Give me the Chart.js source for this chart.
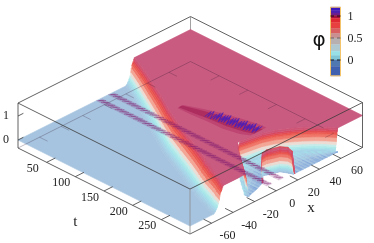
<!DOCTYPE html>
<html>
<head>
<meta charset="utf-8">
<title>phi surface</title>
<script src="https://cdn.jsdelivr.net/npm/chart.js@4/dist/chart.umd.js"></script>
<style>
  html, body { margin: 0; padding: 0; background: #fff; }
  canvas { display: block; filter: blur(0.35px); }
</style>
</head>
<body>
<canvas id="surface-chart" width="374" height="243"></canvas>
<script>
// ===== TICKS =====
const tTicks = [50, 100, 150, 200, 250];
const xTicks = [-60, -40, -20, 0, 20, 40, 60];
const phiTicks = [0, 1];
const barTicks = [0, 0.5, 1];

// ===== SURFACE VALUES =====
// left sheet: one row per t, front edges and the end of the plateau
const tRows     = [0, 30, 60, 90, 120, 150, 180, 210, 238, 244, 250, 260, 270, 280, 290, 300];
const frontLow  = [20, 11, 2, -7, -16, -25, -32, -39, -46, -47, -49, -51, -53, -55, -57, -58];
const frontHigh = [28, 21, 13, 5, -4, -12, -19, -26, -33, -35, -36, -39, -41, -43, -46, -49];

// the hole that opens at late t
const holeT     = [238, 244, 250, 260, 270, 280, 290, 300];
const holeLeft  = [-3, -6, -9, -13, -17, -21, -25, -29];
const holeRight = [-1, 18, 26, 35, 42, 48, 53, 57];

// floor of the hole, per x station
const floorX     = [-26, -15, -6, 0, 6, 12, 16, 24, 40, 57];
const floorRear  = [294, 266, 245, 238, 240, 242, 243, 248, 267, 300];
const floorFront = [300, 294, 288, 276, 280, 284, 300, 300, 300, 300];
const floorShade = [-0.03, 0.03, -0.05, 0.05, -0.02, 0.02];
const floorDepth = [0.13, 0.08, 0.03, -0.02, -0.05];

// the curtain in the hole
const curtainT   = [288, 279, 276, 278, 280, 284, 292, 298, 300];
const curtainX   = [-6, -2, 0, 3, 6, 12, 15, 15.8, 17];
const curtainTop = [0, 0.6, 0.92, 1, 1, 1, 1, 0.9, 0];

// steep parts, position inside a ramp and the phi reached there
const rampAt  = [0, 0.07, 0.14, 0.21, 0.28, 0.35, 0.42, 0.49, 0.56, 0.63, 0.7, 0.77, 0.84, 0.91, 1];
const rampPhi = [0, 0.03, 0.06, 0.1, 0.15, 0.2, 0.26, 0.34, 0.46, 0.62, 0.74, 0.8, 0.86, 0.93, 1];

// hatched stripes along t
const stripeX = [5, -6];
const stripeWiggle = [0.08, -0.03, 0.12, 0.02, 0.09, -0.02, 0.14, 0];

// dark ripple on the plateau
const rippleT = [125, 150, 175, 200, 225, 237];
const rippleX = [4, 7, 10, 12, 15, 17];
const rippleW = [1.5, 3, 4, 5, 5, 4];
const rippleWiggle = [0.03, 0.14, 0.05, 0.18, 0.01, 0.1];

// colours
const surfacePhi = [-0.1, 0, 0.1, 0.2, 0.3, 0.4, 0.5, 0.65, 0.8, 0.9, 1];
const surfaceCol = ['#84a8da', '#a6c4df', '#a6d4e8', '#a4e8ea', '#c4ecea', '#ecdcd4', '#f4b4a4', '#f08070', '#ea5048', '#d84860', '#c95b80'];
const barPhi = [1.2, 1.13, 1.07, 1.02, 1, 0.95, 0.85, 0.72, 0.6, 0.5, 0.35, 0.2, 0.1, 0, -0.15, -0.36];
const barCol = ['#3a18c0', '#4a20b0', '#6a2090', '#8a1858', '#a01040', '#e02830', '#e84040', '#d86060', '#c89090', '#b8b0b0', '#b0c8d0', '#98e0e8', '#80c8d8', '#5078b0', '#4060b0', '#3848a8'];

// ===== VIEW =====
const T_MAX = 300, X_MIN = -80, X_MAX = 80, FLOOR = -1 / 3, ROOF = 1.54;

function project(t, x, phi) {
    const u = x - X_MIN;
    return {
        x: 18 + t * 172 / 300 + u * 172.5 / 160,
        y: 140 + t * 86 / 300 - u * 86.5 / 160 - phi * 24
    };
}

function lerpTable(xs, ys, v) {
    if (v <= xs[0]) return ys[0];
    for (let i = 1; i < xs.length; i++) {
        if (v <= xs[i]) return ys[i - 1] + (ys[i] - ys[i - 1]) * (v - xs[i - 1]) / (xs[i] - xs[i - 1]);
    }
    return ys[ys.length - 1];
}

function hex(c) {
    return [parseInt(c.slice(1, 3), 16), parseInt(c.slice(3, 5), 16), parseInt(c.slice(5, 7), 16)];
}

function colorFor(phi) {
    let i = 1;
    while (i < surfacePhi.length - 1 && phi > surfacePhi[i]) i++;
    const f = Math.max(0, Math.min(1, (phi - surfacePhi[i - 1]) / (surfacePhi[i] - surfacePhi[i - 1])));
    const a = hex(surfaceCol[i - 1]), b = hex(surfaceCol[i]);
    return `rgb(${a.map((v, k) => Math.round(v + (b[k] - v) * f)).join(',')})`;
}

// ===== DATASET HELPERS =====
const layers = [];

function quad(pts, color, edge) {
    layers.push({
        data: pts, showLine: true, fill: 'shape', tension: 0, pointRadius: 0,
        backgroundColor: color, borderColor: color, borderWidth: edge === undefined ? 0.6 : edge
    });
}

function line(pts, color, width, yAxisID) {
    layers.push({
        data: pts, showLine: true, fill: false, tension: 0, pointRadius: 0,
        borderColor: color, borderWidth: width || 0.8, yAxisID: yAxisID || 'y'
    });
}

function strip(t0, x0a, x0b, t1, x1a, x1b, phiA, phiB, color, edge) {
    quad([project(t0, x0a, phiA), project(t0, x0b, phiB), project(t1, x1b, phiB), project(t1, x1a, phiA), project(t0, x0a, phiA)], color, edge);
}

// ===== BACK OF THE BOX =====
function buildBack() {
    line([project(0, X_MIN, ROOF), project(0, X_MAX, ROOF), project(T_MAX, X_MAX, ROOF)], '#3a3a3a', 0.8);
    line([project(0, X_MAX, FLOOR), project(0, X_MAX, ROOF)], '#8a8a8a', 0.8);
    line([project(T_MAX, X_MAX, FLOOR), project(232, X_MAX, FLOOR)], '#3a3a3a', 0.8);
}

// ===== SHEETS, BACK TO FRONT =====
function buildPlateau() {
    const pts = [];
    tRows.forEach((t, i) => pts.push(project(t, frontHigh[i], 1)));
    for (let i = holeT.length - 1; i >= 0; i--) pts.push(project(holeT[i], holeLeft[i], 1));
    holeT.forEach((t, i) => pts.push(project(t, holeRight[i], 1)));
    pts.push(project(T_MAX, X_MAX, 1), project(0, X_MAX, 1), project(0, frontHigh[0], 1));
    quad(pts, colorFor(1));
}

function buildRightWall() {
    for (let i = 0; i < holeT.length - 1; i++) {
        const a = holeRight[i], b = holeRight[i + 1];
        for (let k = 0; k < rampAt.length - 1; k++) {
            const p0 = rampAt[k] * 3 - 3, p1 = rampAt[k + 1] * 3 - 3;
            strip(holeT[i], a + p0, a + p1, holeT[i + 1], b + p0, b + p1, rampPhi[k], rampPhi[k + 1], colorFor((rampPhi[k] + rampPhi[k + 1]) / 2));
        }
    }
}

function buildFloor() {
    for (let j = 0; j < floorX.length - 1; j++) {
        const n = Math.max(1, Math.round((floorX[j + 1] - floorX[j]) / 1.5));
        for (let s = 0; s < n; s++) {
            const xa = floorX[j] + (floorX[j + 1] - floorX[j]) * s / n;
            const xb = floorX[j] + (floorX[j + 1] - floorX[j]) * (s + 1) / n;
            const ra = lerpTable(floorX, floorRear, xa), rb = lerpTable(floorX, floorRear, xb);
            const fa = lerpTable(floorX, floorFront, xa), fb = lerpTable(floorX, floorFront, xb);
            const base = floorShade[(j * 2 + s) % floorShade.length];
            floorDepth.forEach((shade, d) => {
                const f0 = d / floorDepth.length, f1 = (d + 1) / floorDepth.length;
                quad([
                    project(ra + (fa - ra) * f0, xa, 0),
                    project(rb + (fb - rb) * f0, xb, 0),
                    project(rb + (fb - rb) * f1, xb, 0),
                    project(ra + (fa - ra) * f1, xa, 0),
                    project(ra + (fa - ra) * f0, xa, 0)
                ], colorFor(base + shade));
            });
        }
    }
}

function buildCurtain() {
    for (let i = 0; i < curtainT.length - 1; i++) {
        const ta = curtainT[i], tb = curtainT[i + 1], xa = curtainX[i], xb = curtainX[i + 1];
        const topA = curtainTop[i], topB = curtainTop[i + 1];
        quad([project(ta, xa, topA), project(tb, xb, topB), project(tb - 2, xb + 1, topB), project(ta - 2, xa + 1, topA), project(ta, xa, topA)], colorFor(0.85));
        for (let k = 0; k < rampAt.length - 1; k++) {
            quad([
                project(ta, xa, rampPhi[k] * topA), project(tb, xb, rampPhi[k] * topB),
                project(tb, xb, rampPhi[k + 1] * topB), project(ta, xa, rampPhi[k + 1] * topA),
                project(ta, xa, rampPhi[k] * topA)
            ], colorFor((rampPhi[k] + rampPhi[k + 1]) / 2));
        }
    }
}

function buildLeftSheet() {
    // back side of the hole wall, hidden again by the plateau drawn over it
    for (let i = 0; i < holeT.length - 1; i++) {
        for (let k = rampAt.length - 2; k >= 0; k--) {
            const p0 = (1 - rampAt[k]) * 3.5, p1 = (1 - rampAt[k + 1]) * 3.5;
            strip(holeT[i], holeLeft[i] + p0, holeLeft[i] + p1, holeT[i + 1], holeLeft[i + 1] + p0, holeLeft[i + 1] + p1,
                rampPhi[k], rampPhi[k + 1], colorFor((rampPhi[k] + rampPhi[k + 1]) / 2));
        }
    }
    const cover = [];
    tRows.forEach((t, i) => { if (t >= holeT[0]) cover.push(project(t, frontHigh[i], 1)); });
    for (let i = holeT.length - 1; i >= 0; i--) cover.push(project(holeT[i], holeLeft[i], 1));
    cover.push(cover[0]);
    quad(cover, colorFor(1));

    for (let i = 0; i < tRows.length - 1; i++) {
        for (let k = rampAt.length - 2; k >= 0; k--) {
            const w0 = frontHigh[i] - frontLow[i], w1 = frontHigh[i + 1] - frontLow[i + 1];
            strip(tRows[i], frontLow[i] + rampAt[k] * w0, frontLow[i] + rampAt[k + 1] * w0,
                tRows[i + 1], frontLow[i + 1] + rampAt[k] * w1, frontLow[i + 1] + rampAt[k + 1] * w1,
                rampPhi[k], rampPhi[k + 1], colorFor((rampPhi[k] + rampPhi[k + 1]) / 2));
        }
    }
    const blue = [project(0, X_MIN, 0), project(T_MAX, X_MIN, 0)];
    for (let i = tRows.length - 1; i >= 0; i--) blue.push(project(tRows[i], frontLow[i], 0));
    blue.push(blue[0]);
    quad(blue, colorFor(0));
}

// the stripes stay near phi 0 and show through the plateau
function buildStripes() {
    stripeX.forEach(x0 => {
        strip(3, x0 - 2.6, x0 + 2.6, T_MAX, x0 - 2.6, x0 + 2.6, 0.04, 0.04, 'rgba(125,35,115,0.2)', 0);
        const pts = [];
        let k = 0;
        for (let t = 3; t <= T_MAX; t += 2, k++) {
            pts.push(project(t, x0 + (k % 2 ? 2.8 : -2.8), stripeWiggle[k % stripeWiggle.length]));
        }
        line(pts, 'rgba(130,30,110,0.4)', 0.7);
    });
}

function buildRipple() {
    for (let i = 0; i < rippleT.length - 1; i++) {
        strip(rippleT[i], rippleX[i] - rippleW[i] * 1.8, rippleX[i] + rippleW[i] * 1.8,
            rippleT[i + 1], rippleX[i + 1] - rippleW[i + 1] * 1.8, rippleX[i + 1] + rippleW[i + 1] * 1.8, 1, 1, 'rgba(170,30,90,0.35)', 0);
    }
    for (let i = 0; i < rippleT.length - 1; i++) {
        strip(rippleT[i], rippleX[i] - rippleW[i], rippleX[i] + rippleW[i],
            rippleT[i + 1], rippleX[i + 1] - rippleW[i + 1], rippleX[i + 1] + rippleW[i + 1], 1, 1, 'rgba(150,15,70,0.45)', 0);
    }
    [0, 2.2].forEach((shift, n) => {
        const pts = [];
        let k = n;
        for (let t = 165 + n * 12; t <= 237; t += 2, k++) {
            const c = lerpTable(rippleT, rippleX, t) + shift - 1;
            pts.push(project(t, c + (k % 2 ? 2.4 : -2.4), 1 + rippleWiggle[k % rippleWiggle.length]));
        }
        line(pts, 'rgba(70,30,190,0.75)', 1);
    });
}

// ===== FRONT OF THE BOX =====
function buildFront() {
    // lines seen through the surface
    line([project(0, X_MIN, FLOOR), project(0, X_MAX, FLOOR), project(232, X_MAX, FLOOR)], 'rgba(50,20,50,0.4)', 0.7);
    tTicks.forEach(t => {
        line([project(t, X_MIN, FLOOR), project(t, X_MIN + 8, FLOOR)], '#3a3a3a', 0.8);
        line([project(t, X_MAX, FLOOR), project(t, X_MAX - 8, FLOOR)], 'rgba(50,20,50,0.35)', 0.7);
    });
    xTicks.forEach(x => {
        line([project(T_MAX, x, FLOOR), project(T_MAX - 14, x, FLOOR)], '#3a3a3a', 0.8);
        line([project(0, x, FLOOR), project(14, x, FLOOR)], 'rgba(50,20,50,0.35)', 0.7);
    });
    phiTicks.forEach(p => {
        line([project(0, X_MIN, p), project(0, X_MIN + 5, p)], '#3a3a3a', 0.8);
    });
    line([project(0, X_MIN, FLOOR), project(T_MAX, X_MIN, FLOOR), project(T_MAX, X_MAX, FLOOR)], '#3a3a3a', 0.8);
    line([project(0, X_MIN, ROOF), project(T_MAX, X_MIN, ROOF), project(T_MAX, X_MAX, ROOF)], '#3a3a3a', 0.8);
    line([project(0, X_MIN, FLOOR), project(0, X_MIN, ROOF)], '#3a3a3a', 0.8);
    line([project(T_MAX, X_MAX, FLOOR), project(T_MAX, X_MAX, ROOF)], '#3a3a3a', 0.8);
    line([project(T_MAX, X_MIN, FLOOR), project(T_MAX, X_MIN, ROOF)], '#8a8a8a', 0.8);
}

// ===== COLOUR BAR =====
const BAR_LEFT = 330.5, BAR_RIGHT = 340.5;

function buildBar() {
    for (let i = 0; i < barPhi.length - 1; i++) {
        layers.push({
            data: [
                { x: BAR_LEFT, y: barPhi[i] }, { x: BAR_RIGHT, y: barPhi[i] },
                { x: BAR_RIGHT, y: barPhi[i + 1] }, { x: BAR_LEFT, y: barPhi[i + 1] }, { x: BAR_LEFT, y: barPhi[i] }
            ],
            showLine: true, fill: 'shape', tension: 0, pointRadius: 0, yAxisID: 'phiBar',
            backgroundColor: barCol[i], borderColor: barCol[i], borderWidth: 0.4
        });
    }
    const top = barPhi[0], bottom = barPhi[barPhi.length - 1];
    line([{ x: BAR_LEFT, y: top }, { x: BAR_RIGHT, y: top }, { x: BAR_RIGHT, y: bottom }, { x: BAR_LEFT, y: bottom }, { x: BAR_LEFT, y: top }], '#f3c46a', 1, 'phiBar');
    barTicks.forEach(p => {
        const c = p === 0.5 ? '#6a5a5a' : '#111';
        line([{ x: BAR_LEFT, y: p }, { x: BAR_LEFT + 3.5, y: p }], c, 0.9, 'phiBar');
        line([{ x: BAR_RIGHT - 3.5, y: p }, { x: BAR_RIGHT, y: p }], c, 0.9, 'phiBar');
    });
}

buildBack();
buildPlateau();
buildRightWall();
buildFloor();
buildCurtain();
buildLeftSheet();
buildRipple();
buildStripes();
buildFront();
buildBar();

// ===== TEXT =====
const axisText = {
    id: 'axisText',
    afterDraw(chart) {
        const { ctx, scales } = chart;
        const put = (label, px, py, font) => {
            ctx.font = font;
            ctx.fillText(label, scales.x.getPixelForValue(px), scales.y.getPixelForValue(py));
        };
        const serif = '12px "Liberation Serif"';
        ctx.save();
        ctx.fillStyle = '#222';
        ctx.textAlign = 'center';
        ctx.textBaseline = 'middle';
        tTicks.forEach(t => {
            const p = project(t, X_MIN, FLOOR);
            put(String(t), p.x - 14, p.y + 6.5, serif);
        });
        xTicks.forEach(x => {
            const p = project(T_MAX, x, FLOOR);
            put(String(x), p.x + 16, p.y + 13, serif);
        });
        phiTicks.forEach(v => {
            const p = project(0, X_MIN, v);
            put(String(v), p.x - 12, p.y, serif);
        });
        barTicks.forEach(v => {
            ctx.textAlign = 'left';
            ctx.font = serif;
            ctx.fillText(String(v), scales.x.getPixelForValue(347.5), scales.phiBar.getPixelForValue(v) + 1);
        });
        ctx.textAlign = 'center';
        const tLabel = project(100, X_MIN, FLOOR);
        put('t', tLabel.x, tLabel.y + 45, '15px "Liberation Serif"');
        const xLabel = project(T_MAX, 10, FLOOR);
        put('x', xLabel.x + 24, xLabel.y + 23, '15px "Liberation Serif"');
        ctx.fillStyle = '#111';
        put('φ', 319, 41, '20px "DejaVu Sans"');
        ctx.restore();
    }
};

// ===== CHART =====
new Chart(document.getElementById('surface-chart'), {
    type: 'scatter',
    data: { datasets: layers.slice().reverse() },
    options: {
        responsive: false,
        animation: false,
        events: [],
        clip: false,
        layout: { padding: 0 },
        plugins: { legend: { display: false }, tooltip: { enabled: false } },
        scales: {
            x: { type: 'linear', min: 0, max: 374, display: false },
            y: { type: 'linear', min: 0, max: 243, reverse: true, display: false },
            // colour bar axis, phi 0 and 1 sit 44 px apart
            phiBar: { type: 'linear', position: 'right', min: -4.159, max: 1.364, display: false }
        }
    },
    plugins: [axisText]
});
</script>
</body>
</html>
